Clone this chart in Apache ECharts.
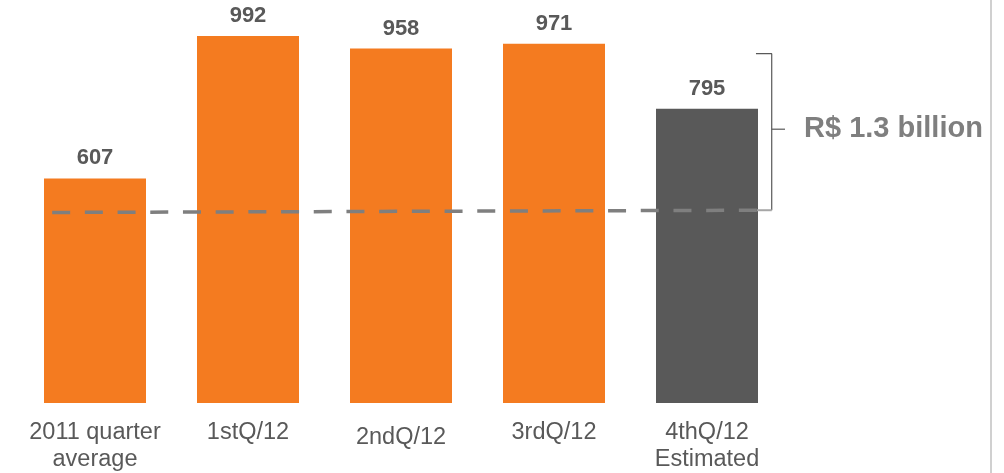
<!DOCTYPE html>
<html>
<head>
<meta charset="utf-8">
<script src="https://cdn.jsdelivr.net/npm/echarts@6/dist/echarts.min.js"></script>
<style>
  html, body { margin: 0; padding: 0; background: #ffffff; }
  #chart { width: 1004px; height: 473px; }
</style>
</head>
<body>
<div id="chart"></div>
<script>
// Quarterly values (R$ million)
const categories = ['2011 quarter\naverage', '1stQ/12', '2ndQ/12', '3rdQ/12', '4thQ/12\nEstimated'];
const values = [607, 992, 958, 971, 795];
const estimated = [false, false, false, false, true];

// Reference level drawn as a dashed line across the bars, [position, value]
const referenceLine = [[-0.28, 515], [4.327, 521]];

// Bracket spanning the additional amount on the right
const bracketTop = [[4.32, 944], [4.423, 944], [4.423, 521]];
const bracketBottom = [[4.327, 521], [4.423, 521]];
const bracketMid = [[4.423, 740], [4.527, 740]];
const bracketText = 'R$ 1.3 billion';

const ORANGE = '#F47B20';
const DARK = '#595959';
const TEXT = '#595959';
const FONT = '"Liberation Sans", Arial, Helvetica, sans-serif';

const chart = echarts.init(document.getElementById('chart'), null, { renderer: 'canvas' });

const option = {
  backgroundColor: '#ffffff',
  animation: false,
  grid: { left: 18.5, right: 220.5, top: 33, bottom: 70, containLabel: false },
  xAxis: [
    {
      type: 'category',
      data: categories.map((c, i) => i === 2
        ? { value: c, textStyle: { padding: [5, 0, 0, 0] } }
        : c),
      axisLine: { show: false },
      axisTick: { show: false },
      axisLabel: {
        color: TEXT,
        fontFamily: FONT,
        fontSize: 23.5,
        lineHeight: 27,
        margin: 16,
        interval: 0
      }
    },
    {
      type: 'value',
      min: -0.5,
      max: 4.5,
      show: false
    }
  ],
  yAxis: {
    type: 'value',
    min: 0,
    max: 1000,
    show: false,
    splitLine: { show: false }
  },
  series: [
    {
      type: 'bar',
      xAxisIndex: 0,
      barWidth: 102,
      data: values.map((v, i) => ({
        value: v,
        itemStyle: { color: estimated[i] ? DARK : ORANGE }
      })),
      label: {
        show: true,
        position: 'top',
        distance: 9,
        color: TEXT,
        fontFamily: FONT,
        fontWeight: 'bold',
        fontSize: 22
      },
      z: 2
    },
    {
      type: 'line',
      xAxisIndex: 1,
      data: referenceLine,
      symbol: 'none',
      silent: true,
      clip: false,
      lineStyle: { color: '#7F7F7F', width: 3.5, type: [18, 14.7] },
      z: 5
    },
    {
      type: 'line',
      xAxisIndex: 1,
      data: bracketTop,
      symbol: 'none',
      silent: true,
      clip: false,
      lineStyle: { color: DARK, width: 1.2 },
      z: 4
    },
    {
      type: 'line',
      xAxisIndex: 1,
      data: bracketBottom,
      symbol: 'none',
      silent: true,
      clip: false,
      lineStyle: { color: '#A6A6A6', width: 2 },
      z: 4
    },
    {
      type: 'line',
      xAxisIndex: 1,
      data: bracketMid,
      symbol: 'none',
      silent: true,
      clip: false,
      lineStyle: { color: DARK, width: 1.2 },
      endLabel: {
        show: true,
        distance: 19,
        formatter: bracketText,
        color: '#7F7F7F',
        fontFamily: FONT,
        fontWeight: 'bold',
        fontSize: 29
      },
      z: 4
    }
  ],
  graphic: [
    {
      type: 'rect',
      right: 12,
      top: 0,
      shape: { width: 2, height: 473 },
      style: { fill: '#D0D0D0' },
      silent: true
    }
  ]
};

chart.setOption(option);
</script>
</body>
</html>
